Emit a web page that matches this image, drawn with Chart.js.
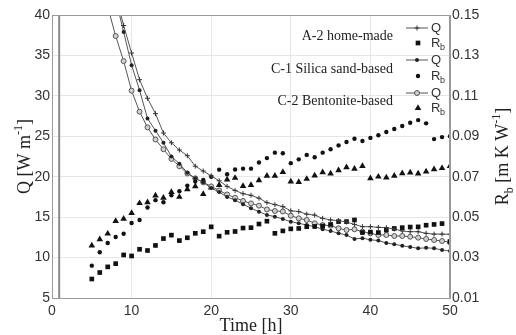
<!DOCTYPE html>
<html>
<head>
<meta charset="utf-8">
<script src="https://cdn.jsdelivr.net/npm/chart.js@4/dist/chart.umd.min.js"></script>
<style>
  html, body { margin: 0; padding: 0; background: #fff; }
  #wrap { width: 516px; height: 335px; }
</style>
</head>
<body>
<div id="wrap"><canvas id="qChart" width="516" height="335"></canvas></div>
<script>
// time axis (hours)
var hours = [5, 6, 7, 8, 9, 10, 11, 12, 13, 14, 15, 16, 17, 18, 19, 20, 21, 22, 23, 24, 25, 26, 27,
  28, 29, 30, 31, 32, 33, 34, 35, 36, 37, 38, 39, 40, 41, 42, 43, 44, 45, 46, 47, 48, 49, 50];

// heat rate Q [W/m]
var qA2 = [null, null, null, 42.5, 38.7, 35.3, 32.0, 29.7, 27.8, 25.4, 24.2, 23.3, 22.6, 21.3, 20.7, 20.1,
  19.5, 18.8, 18.3, 17.9, 17.7, 17.35, 16.8, 16.55, 16.3, 15.78, 15.69, 15.37, 15.25, 14.85, 14.65, 14.57,
  14.4, 14.1, 13.82, 13.82, 13.74, 13.7, 13.53, 13.29, 13.2, 13.2, 13.0, 12.9, 12.9, 12.88];
var qC1 = [null, null, null, 42.0, 37.9, 33.8, 30.7, 27.2, 25.7, 24.2, 22.5, 21.6, 20.5, 19.8, 19.3, 18.6,
  18.1, 17.5, 17.1, 16.6, 16.1, 15.68, 15.27, 15.06, 14.77, 14.44, 14.24, 14.03, 13.82, 13.5, 13.29, 13.0,
  12.79, 12.3, 12.4, 12.2, 12.1, 11.8, 11.65, 11.45, 11.3, 11.15, 11.2, 11.15, 10.94, 10.81];
var qC2 = [null, null, 41.0, 37.4, 34.3, 30.64, 28.04, 26.1, 24.6, 23.4, 22.2, 21.3, 20.4, 19.8, 19.3, 18.8,
  18.3, 17.8, 17.4, 17.0, 16.7, 16.42, 15.95, 15.76, 15.7, 15.18, 14.85, 14.65, 14.24, 14.03, 13.94, 13.62,
  13.41, 13.5, 13.2, 13.0, 12.79, 12.79, 12.67, 12.67, 12.58, 12.46, 12.3, 12.17, 12.05, 11.89];

// borehole resistance Rb [m K/W]
var rbA2 = [0.0194, 0.0226, 0.0254, 0.0270, 0.0313, 0.0308, 0.0341, 0.0335, 0.0360, 0.0394, 0.0411, 0.0384,
  0.0398, 0.0420, 0.0428, 0.0452, 0.0406, 0.0425, 0.0429, 0.0446, 0.0448, 0.0466, 0.0480, 0.0420, 0.0432,
  0.0442, 0.0444, 0.0453, 0.0454, 0.0456, 0.0464, 0.0478, 0.0478, 0.0486, 0.0424, 0.0426, 0.0424, 0.0436,
  0.0444, 0.0448, 0.0451, 0.0452, 0.0460, 0.0464, 0.0468, 0.0379];
var rbC1 = [0.0260, 0.0326, 0.0372, 0.0402, 0.0418, 0.0471, 0.0486, 0.0548, 0.0584, 0.0574, 0.0608, 0.0628,
  0.0656, 0.0676, 0.0684, 0.0700, 0.0735, 0.0712, 0.0736, 0.0740, 0.0740, 0.0770, 0.0792, 0.0819, 0.0816,
  0.0767, 0.0786, 0.0808, 0.0796, 0.0819, 0.0836, 0.0855, 0.0872, 0.0888, 0.0877, 0.0892, 0.0905, 0.0921,
  0.0936, 0.0951, 0.0967, 0.0980, 0.0964, 0.0886, 0.0896, 0.0900];
var rbC2 = [0.0359, 0.0390, 0.0418, 0.0481, 0.0492, 0.0520, 0.0569, 0.0573, 0.0607, 0.0596, 0.0624, 0.0600,
  0.0638, 0.0652, 0.0614, 0.0646, 0.0659, 0.0686, 0.0694, 0.0654, 0.0659, 0.0682, 0.0704, 0.0704, 0.0723,
  0.0676, 0.0673, 0.0689, 0.0706, 0.0722, 0.0716, 0.0732, 0.0746, 0.0739, 0.0753, 0.0692, 0.0700, 0.0696,
  0.0704, 0.0717, 0.0720, 0.0716, 0.0725, 0.0737, 0.0742, 0.0753];

// stray vertical line near t = 0.9 h in the original figure
var markerLineX = [0.9, 0.9];
var markerLineY = [5, 40];

var qTicks = [5, 10, 15, 20, 25, 30, 35, 40];
var rbTicks = [0.01, 0.03, 0.05, 0.07, 0.09, 0.11, 0.13, 0.15];
var timeTicks = [0, 10, 20, 30, 40, 50];
var sampleNames = ["A-2 home-made", "C-1 Silica sand-based", "C-2 Bentonite-based"];

function toPoints(xs, ys) {
  var pts = [];
  for (var i = 0; i < xs.length; i++) {
    if (ys[i] !== null) pts.push({ x: xs[i], y: ys[i] });
  }
  return pts;
}

var lineGrey = "#555";
var markBlack = "#111";

// draws box frame, y-axis titles with sub/superscripts and the grouped legend
var extrasPlugin = {
  id: "extras",
  afterDatasetsDraw: function (chart) {
    var ctx = chart.ctx;
    var a = chart.chartArea;
    ctx.save();
    ctx.strokeStyle = "#9a9a9a";
    ctx.lineWidth = 1;
    ctx.strokeRect(a.left + 0.5, a.top + 0.5, a.right - a.left - 1, a.bottom - a.top);

    // left title: Q [W m^-1]
    ctx.fillStyle = "#222";
    ctx.textBaseline = "alphabetic";
    ctx.translate(30, (a.top + a.bottom) / 2);
    ctx.rotate(-Math.PI / 2);
    var big = "18px 'Liberation Serif'";
    var small = "12px 'Liberation Serif'";
    ctx.font = big;
    var w1 = ctx.measureText("Q [W m").width;
    ctx.font = small;
    var w2 = ctx.measureText("-1").width;
    ctx.font = big;
    var w3 = ctx.measureText("]").width;
    var x0 = -(w1 + w2 + w3) / 2;
    ctx.textAlign = "left";
    ctx.fillText("Q [W m", x0, 0);
    ctx.font = small;
    ctx.fillText("-1", x0 + w1, -8);
    ctx.font = big;
    ctx.fillText("]", x0 + w1 + w2, 0);
    ctx.restore();

    // right title: R_b [m K W^-1]
    ctx.save();
    ctx.fillStyle = "#222";
    ctx.translate(508, (a.top + a.bottom) / 2);
    ctx.rotate(-Math.PI / 2);
    ctx.font = big;
    var r1 = ctx.measureText("R").width;
    ctx.font = small;
    var r2 = ctx.measureText("b").width;
    ctx.font = big;
    var r3 = ctx.measureText(" [m K W").width;
    ctx.font = small;
    var r4 = ctx.measureText("-1").width;
    ctx.font = big;
    var r5 = ctx.measureText("]").width;
    var rx = -(r1 + r2 + r3 + r4 + r5) / 2;
    ctx.textAlign = "left";
    ctx.fillText("R", rx, 0);
    ctx.font = small;
    ctx.fillText("b", rx + r1, 5);
    ctx.font = big;
    ctx.fillText(" [m K W", rx + r1 + r2, 0);
    ctx.font = small;
    ctx.fillText("-1", rx + r1 + r2 + r3, -8);
    ctx.font = big;
    ctx.fillText("]", rx + r1 + r2 + r3 + r4, 0);
    ctx.restore();

    // legend
    ctx.save();
    var rows = [
      { name: sampleNames[0], ty: 36, qy: 28, ry: 43, q: 0, r: 1 },
      { name: sampleNames[1], ty: 69, qy: 60, ry: 76, q: 2, r: 3 },
      { name: sampleNames[2], ty: 101, qy: 93, ry: 108, q: 4, r: 5 }
    ];
    rows.forEach(function (row) {
      var qs = chart.data.datasets[row.q];
      var rs = chart.data.datasets[row.r];
      ctx.font = "14px 'Liberation Serif'";
      ctx.fillStyle = "#222";
      ctx.textAlign = "right";
      ctx.textBaseline = "middle";
      ctx.fillText(row.name, 393, row.ty);

      ctx.strokeStyle = qs.borderColor;
      ctx.lineWidth = 1;
      ctx.beginPath();
      ctx.moveTo(406, row.qy);
      ctx.lineTo(428, row.qy);
      ctx.stroke();
      ctx.fillStyle = qs.pointBackgroundColor;
      ctx.strokeStyle = qs.pointBorderColor;
      Chart.helpers.drawPoint(ctx, { pointStyle: qs.pointStyle, radius: qs.pointRadius, borderWidth: qs.pointBorderWidth, rotation: 0 }, 417, row.qy);

      ctx.fillStyle = rs.pointBackgroundColor;
      ctx.strokeStyle = rs.pointBorderColor;
      Chart.helpers.drawPoint(ctx, { pointStyle: rs.pointStyle, radius: rs.pointRadius, borderWidth: rs.pointBorderWidth, rotation: 0 }, 418, row.ry);

      ctx.fillStyle = "#333";
      ctx.textAlign = "left";
      ctx.font = "13px 'Liberation Sans'";
      ctx.fillText("Q", 431, row.qy);
      ctx.fillText("R", 431, row.ry);
      ctx.font = "9px 'Liberation Sans'";
      ctx.fillText("b", 440, row.ry + 5);
    });
    ctx.restore();
  }
};

var tickFont = { family: "'Liberation Sans', Arial, sans-serif", size: 14 };

var ctx = document.getElementById("qChart").getContext("2d");
var qChart = new Chart(ctx, {
  type: "scatter",
  data: {
    datasets: [
      {
        label: "A-2 Q",
        data: toPoints(hours, qA2),
        showLine: true,
        yAxisID: "y",
        borderColor: lineGrey,
        borderWidth: 1,
        pointStyle: "cross",
        pointRadius: 2.5,
        pointBorderWidth: 1,
        pointBorderColor: "#333",
        pointBackgroundColor: "#333"
      },
      {
        label: "A-2 Rb",
        data: toPoints(hours, rbA2),
        yAxisID: "y1",
        pointStyle: "rect",
        pointRadius: 3.3,
        pointBorderWidth: 0,
        pointBorderColor: markBlack,
        pointBackgroundColor: markBlack
      },
      {
        label: "C-1 Q",
        data: toPoints(hours, qC1),
        showLine: true,
        yAxisID: "y",
        borderColor: lineGrey,
        borderWidth: 1,
        pointStyle: "circle",
        pointRadius: 2,
        pointBorderWidth: 0,
        pointBorderColor: "#222",
        pointBackgroundColor: "#222"
      },
      {
        label: "C-1 Rb",
        data: toPoints(hours, rbC1),
        yAxisID: "y1",
        pointStyle: "circle",
        pointRadius: 2.2,
        pointBorderWidth: 0,
        pointBorderColor: markBlack,
        pointBackgroundColor: markBlack
      },
      {
        label: "C-2 Q",
        data: toPoints(hours, qC2),
        showLine: true,
        yAxisID: "y",
        borderColor: lineGrey,
        borderWidth: 1,
        pointStyle: "circle",
        pointRadius: 2.5,
        pointBorderWidth: 1,
        pointBorderColor: "#555",
        pointBackgroundColor: "#d0d0d0"
      },
      {
        label: "C-2 Rb",
        data: toPoints(hours, rbC2),
        yAxisID: "y1",
        pointStyle: "triangle",
        pointRadius: 3.8,
        pointBorderWidth: 0,
        pointBorderColor: markBlack,
        pointBackgroundColor: markBlack
      },
      {
        label: "marker",
        data: toPoints(markerLineX, markerLineY),
        showLine: true,
        yAxisID: "y",
        borderColor: "#8a8a8a",
        borderWidth: 2,
        pointRadius: 0
      }
    ]
  },
  options: {
    responsive: false,
    animation: false,
    layout: { padding: { top: 15, left: 0, right: 0, bottom: 0 } },
    plugins: {
      legend: { display: false },
      tooltip: { enabled: false }
    },
    scales: {
      x: {
        type: "linear",
        min: 0,
        max: 50,
        afterBuildTicks: function (s) { s.ticks = timeTicks.map(function (v) { return { value: v }; }); },
        afterFit: function (s) { s.height = 37; },
        grid: { color: "#e6e6e6", drawTicks: false },
        border: { color: "#9a9a9a" },
        ticks: { font: tickFont, color: "#333", padding: 5, maxRotation: 0 },
        title: {
          display: true,
          text: "Time [h]",
          font: { family: "'Liberation Serif', serif", size: 18 },
          color: "#222",
          padding: { top: 0, bottom: -2 }
        }
      },
      y: {
        type: "linear",
        position: "left",
        min: 5,
        max: 40,
        afterBuildTicks: function (s) { s.ticks = qTicks.map(function (v) { return { value: v }; }); },
        afterFit: function (s) { s.width = 52; },
        grid: { color: "#e6e6e6", drawTicks: false },
        border: { color: "#9a9a9a" },
        ticks: { font: tickFont, color: "#333", padding: 2 }
      },
      y1: {
        type: "linear",
        position: "right",
        min: 0.01,
        max: 0.15,
        afterBuildTicks: function (s) { s.ticks = rbTicks.map(function (v) { return { value: v }; }); },
        afterFit: function (s) { s.width = 66; },
        grid: { display: false, drawTicks: false },
        border: { color: "#9a9a9a" },
        ticks: {
          font: tickFont,
          color: "#333",
          padding: 2,
          callback: function (v) { return v.toFixed(2); }
        }
      }
    }
  },
  plugins: [extrasPlugin]
});
</script>
</body>
</html>
